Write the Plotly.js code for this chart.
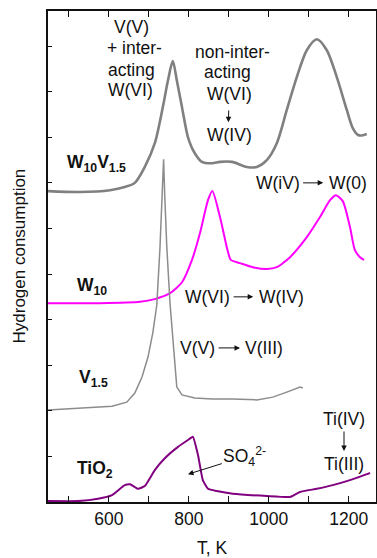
<!DOCTYPE html>
<html>
<head>
<meta charset="utf-8">
<script src="https://cdn.plot.ly/plotly-3.0.1.min.js"></script>
<style>
  html, body { margin: 0; padding: 0; background: #fff; }
  #chart { width: 377px; height: 558px; }
</style>
</head>
<body>
<div id="chart"></div>
<script>
// Temperature (K) and hydrogen consumption (arbitrary units, curves offset vertically)
const tW10V15 = [448, 528, 603, 640, 665, 690, 715, 735, 748, 760, 770, 783, 798, 815, 833, 858, 878, 908, 945, 970, 995, 1020, 1045, 1070, 1095, 1120, 1145, 1170, 1195, 1210, 1223, 1233, 1245];
const hW10V15 = [6.82, 6.80, 6.84, 6.91, 7.00, 7.35, 7.87, 8.66, 9.25, 9.67, 9.25, 8.66, 8.00, 7.65, 7.46, 7.43, 7.46, 7.46, 7.35, 7.35, 7.50, 7.87, 8.60, 9.32, 9.91, 10.15, 9.91, 9.32, 8.60, 8.20, 8.05, 8.04, 8.07];

const tW10 = [448, 578, 678, 715, 753, 783, 808, 828, 848, 859, 878, 895, 905, 928, 960, 995, 1020, 1053, 1095, 1128, 1153, 1168, 1185, 1203, 1215, 1228, 1238];
const hW10 = [4.36, 4.36, 4.39, 4.45, 4.58, 4.82, 5.31, 5.90, 6.62, 6.82, 6.25, 5.59, 5.31, 5.24, 5.15, 5.11, 5.15, 5.37, 5.81, 6.25, 6.62, 6.73, 6.60, 6.03, 5.53, 5.37, 5.31];

const tV15 = [448, 523, 608, 645, 665, 683, 698, 710, 720, 728, 733, 737, 740, 745, 753, 760, 765, 770, 783, 815, 858, 910, 970, 1010, 1045, 1078, 1085];
const hV15 = [2.02, 2.06, 2.10, 2.19, 2.39, 2.74, 3.18, 3.71, 4.32, 5.59, 6.69, 7.52, 6.69, 5.59, 4.36, 3.55, 2.96, 2.52, 2.35, 2.28, 2.26, 2.26, 2.24, 2.30, 2.41, 2.52, 2.50];

const tTiO2 = [448, 523, 573, 608, 640, 653, 673, 690, 715, 740, 773, 798, 810, 823, 835, 848, 870, 910, 995, 1053, 1078, 1120, 1160, 1203, 1245, 1253];
const hTiO2 = [0.02, 0.02, 0.07, 0.15, 0.37, 0.39, 0.29, 0.35, 0.70, 0.96, 1.21, 1.36, 1.43, 1.03, 0.48, 0.29, 0.24, 0.18, 0.13, 0.11, 0.22, 0.29, 0.37, 0.48, 0.61, 0.64];

const xTickVals = [600, 800, 1000, 1200];
const xTickText = ['600', '800', '1000', '1200'];

const FONT = 'Liberation Sans, Arial, sans-serif';
const FS = 17.5;

const traces = [
  {x: tW10V15, y: hW10V15, mode: 'lines', line: {color: '#808080', width: 2.6, shape: 'spline', smoothing: 0.8}},
  {x: tW10, y: hW10, mode: 'lines', line: {color: '#ff00ff', width: 2, shape: 'spline', smoothing: 0.6}},
  {x: tV15, y: hV15, mode: 'lines', line: {color: '#8c8c8c', width: 1.5}},
  {x: tTiO2, y: hTiO2, mode: 'lines', line: {color: '#800080', width: 2, shape: 'spline', smoothing: 0.4}}
];

function txt(x, y, text, opts) {
  return Object.assign({x: x, y: y, xref: 'x', yref: 'y', text: text, showarrow: false,
    font: {family: FONT, size: FS, color: '#111'}, xanchor: 'center', yanchor: 'middle'}, opts || {});
}
// text centred at (tx, ty) with an arrow pointing to (hx, hy)
function txtArrow(tx, ty, text, hx, hy, opts) {
  return Object.assign({x: hx, y: hy, ax: tx, ay: ty, xref: 'x', yref: 'y', axref: 'x', ayref: 'y',
    text: text, showarrow: true, arrowhead: 2, arrowsize: 1.1, arrowwidth: 1, arrowcolor: '#111',
    startstandoff: 2, standoff: 0,
    font: {family: FONT, size: FS, color: '#111'}}, opts || {});
}

const annotations = [
  txt(657, 10.42, 'V(V)'),
  txt(663, 9.96, '+ inter-'),
  txt(657, 9.47, 'acting'),
  txt(653, 9.04, 'W(VI)'),
  txt(908, 9.87, 'non-inter-'),
  txt(896, 9.43, 'acting'),
  txtArrow(901, 8.95, 'W(VI)', 899, 8.33, {startstandoff: 5}),
  txt(901, 8.05, 'W(IV)'),
  txt(490, 7.43, '<b>W<sub>10</sub>V<sub>1.5</sub></b>', {xanchor: 'left'}),
  txtArrow(1022, 7.0, 'W(iV)', 1136, 7.0),
  txt(1145, 7.0, 'W(0)', {xanchor: 'left'}),
  txt(515, 4.72, '<b>W<sub>10</sub></b>', {xanchor: 'left'}),
  txtArrow(847, 4.50, 'W(VI)', 961, 4.50),
  txt(970, 4.50, 'W(IV)', {xanchor: 'left'}),
  txtArrow(822, 3.38, 'V(V)', 928, 3.38),
  txt(935, 3.38, 'V(III)', {xanchor: 'left'}),
  txt(520, 2.72, '<b>V<sub>1.5</sub></b>', {xanchor: 'left'}),
  txt(515, 0.72, '<b>TiO<sub>2</sub></b>', {xanchor: 'left'}),
  txtArrow(940, 1.00, 'SO<sub>4</sub><sup>2-</sup>', 798, 0.61, {startstandoff: 0}),
  txtArrow(1188, 1.82, 'Ti(IV)', 1188, 1.12, {startstandoff: 1}),
  txt(1188, 0.83, 'Ti(III)'),
  {x: 0, y: 0.5, xref: 'paper', yref: 'paper', xshift: -29, text: 'Hydrogen consumption',
   textangle: -90, showarrow: false, font: {family: FONT, size: 17, color: '#111'},
   xanchor: 'center', yanchor: 'middle'}
];

const layout = {
  width: 377, height: 558,
  margin: {l: 48, r: 1, t: 11, b: 56},
  paper_bgcolor: '#fff', plot_bgcolor: '#fff',
  showlegend: false,
  font: {family: FONT, size: FS, color: '#111'},
  xaxis: {
    range: [448, 1268], tickmode: 'array', tickvals: xTickVals, ticktext: xTickText,
    ticks: 'inside', ticklen: 6, tickwidth: 1, tickcolor: '#111',
    minor: {dtick: 100, tick0: 0, ticks: 'inside', ticklen: 6, tickwidth: 1, tickcolor: '#111', showgrid: false},
    showline: true, linecolor: '#111', linewidth: 2, mirror: 'ticks',
    showgrid: false, zeroline: false,
    tickfont: {family: FONT, size: FS, color: '#111'},
    title: {text: 'T, K', font: {family: FONT, size: FS, color: '#111'}, standoff: 15}
  },
  yaxis: {
    range: [0, 10.77], dtick: 1, tick0: 0,
    ticks: 'inside', ticklen: 4, tickwidth: 1, tickcolor: '#111',
    showticklabels: false,
    showline: true, linecolor: '#111', linewidth: 2, mirror: true,
    showgrid: false, zeroline: false
  },
  annotations: annotations
};

Plotly.newPlot('chart', traces, layout, {displayModeBar: false, staticPlot: true});
</script>
</body>
</html>
